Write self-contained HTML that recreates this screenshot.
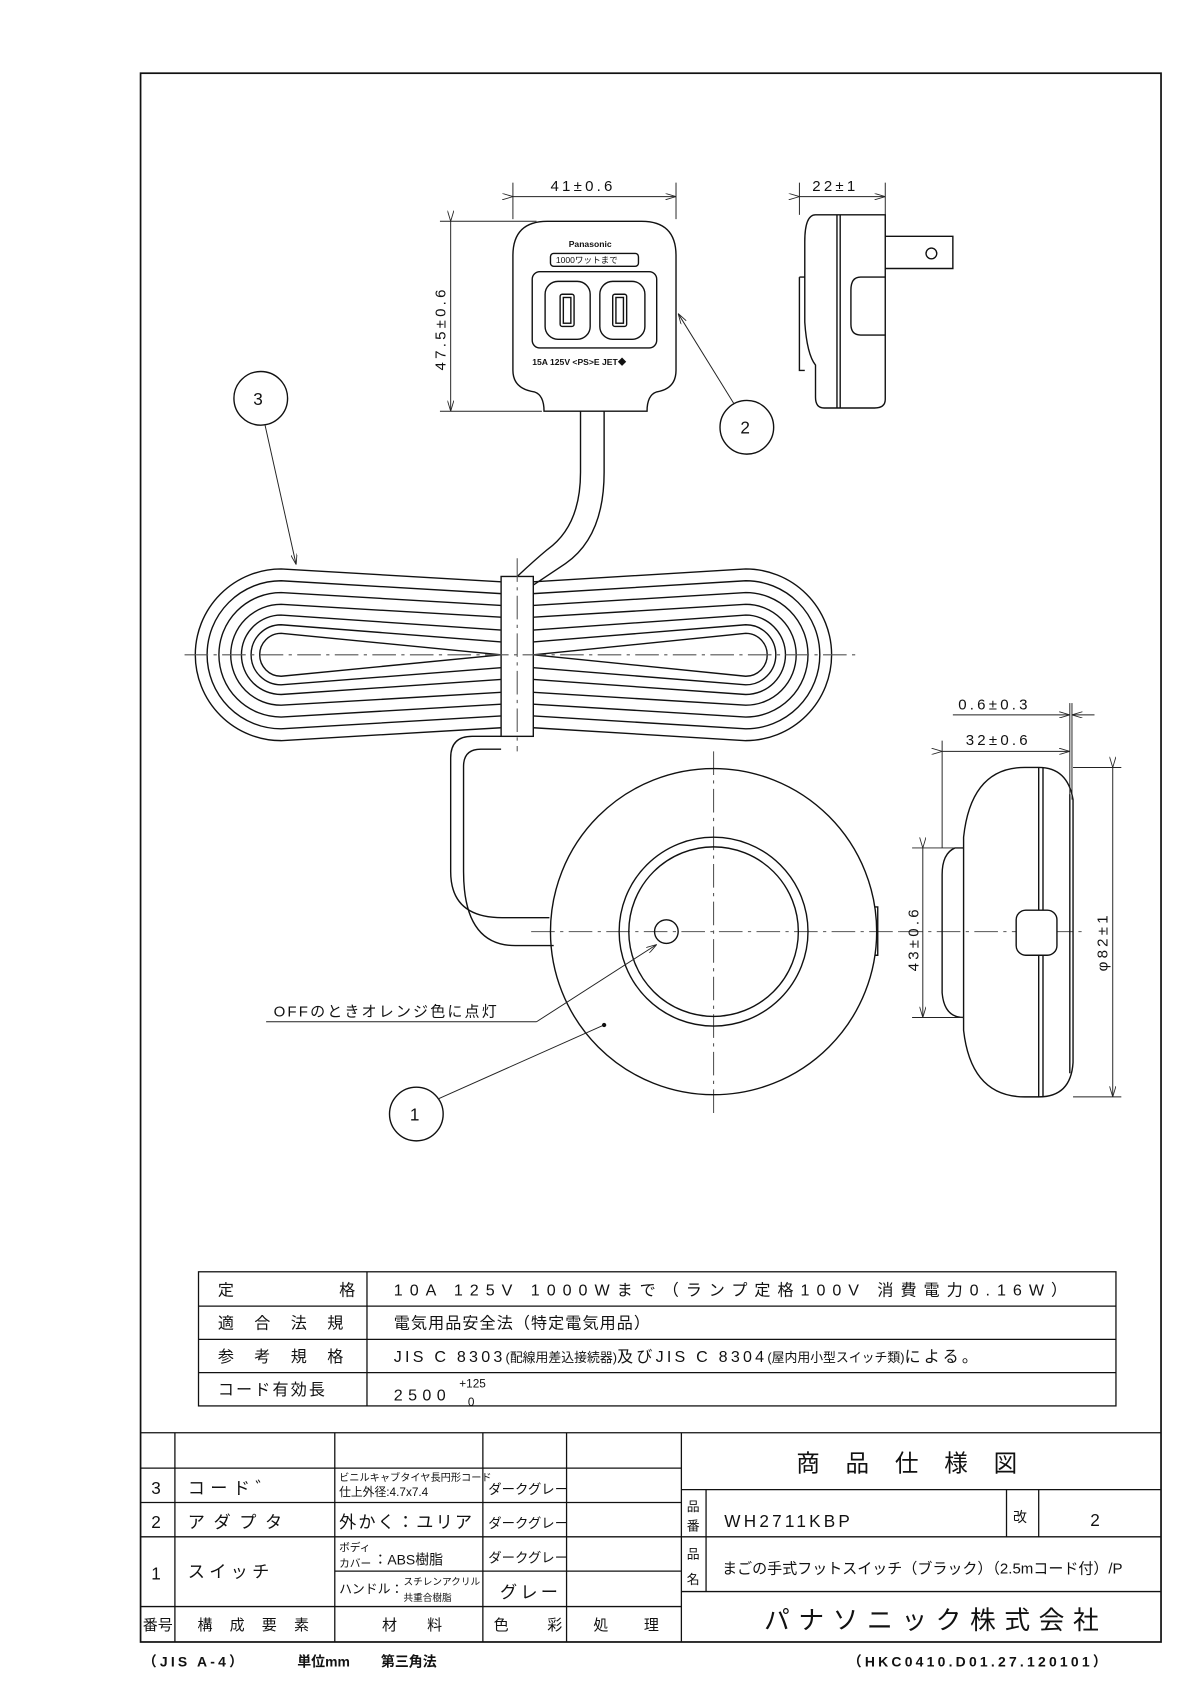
<!DOCTYPE html>
<html><head><meta charset="utf-8"><style>
html,body{margin:0;padding:0;background:#fff;}
svg{display:block;}
text{font-family:"Liberation Sans","Noto Sans CJK JP",sans-serif;fill:#111;}
</style></head><body>
<svg width="1190" height="1683" viewBox="0 0 1109 1568" xmlns="http://www.w3.org/2000/svg">
<defs>
<marker id="a" markerWidth="10" markerHeight="6" refX="10" refY="3" orient="auto" markerUnits="userSpaceOnUse"><path d="M0,0 L10,3 L0,6" fill="none" stroke="#222" stroke-width="0.8"/></marker>
</defs>
<g fill="none" stroke="#111" stroke-width="1.3">
<rect x="131" y="68" width="951" height="1462" stroke-width="1.6"/>

<path d="M478,238 Q478,206 510,206 L598,206 Q630,206 630,238 L630,345 Q630,362 612,365 Q603,368 603,383 L507,383 Q507,368 498,365 Q478,362 478,345 Z"/>
<rect x="496" y="253" width="116" height="71" rx="7"/>
<rect x="508" y="262" width="42" height="54" rx="12"/>
<rect x="559" y="262" width="42" height="54" rx="12"/>
<rect x="522" y="274" width="13" height="30" rx="2"/><rect x="525" y="277" width="7" height="24"/>
<rect x="571" y="274" width="13" height="30" rx="2"/><rect x="574" y="277" width="7" height="24"/>
<rect x="513" y="236" width="82" height="12" rx="3"/>
<path d="M760,200 L825,200 L825,372 Q825,380 815,380 L768,380 Q760,380 760,370 L760,340 Q752,330 750,300 L750,225 Q750,200 760,200 Z"/>
<line x1="780" y1="200" x2="780" y2="380"/><line x1="783" y1="200" x2="783" y2="380"/>
<path d="M745,258 L750,258 M745,258 L745,345 L750,345"/>
<path d="M825,258 L802,258 Q793,258 793,270 L793,302 Q793,312 802,312 L825,312"/>
<path d="M825,220 L888,220 L888,250 L825,250"/>
<circle cx="868" cy="236" r="5"/>

<path d="M541,383 L541,440 Q541,490 510,512 Q498,522 482,537"/>
<path d="M563,383 L563,440 Q563,500 527,525 Q515,533 497,545"/>
<path d="M467,686 L440,686 Q420,686 420,706 L420,812 Q420,855 468,855 L512,855"/>
<path d="M467,698 L448,698 Q432,698 432,714 L432,812 Q432,881 480,881 L516,881"/>
</g>

<g fill="none" stroke="#111" stroke-width="1.3">
<path d="M467,542 L262,530 A80,80 0 0 0 262,690 L467,678"/>
<path d="M467,553 L262,541 A69,69 0 0 0 262,679 L467,667"/>
<path d="M467,564 L262,552 A58,58 0 0 0 262,668 L467,656"/>
<path d="M467,575 L262,563 A47,47 0 0 0 262,657 L467,645"/>
<path d="M467,587 L262,573 A37,37 0 0 0 262,647 L467,633"/>
<path d="M467,598 L262,582 A28,28 0 0 0 262,638 L467,622"/>
<path d="M467,610 L262,590 A20,20 0 0 0 262,630 L467,610"/>
<path d="M497,542 L695,530 A80,80 0 0 1 695,690 L497,678"/>
<path d="M497,553 L695,541 A69,69 0 0 1 695,679 L497,667"/>
<path d="M497,564 L695,552 A58,58 0 0 1 695,668 L497,656"/>
<path d="M497,575 L695,563 A47,47 0 0 1 695,657 L497,645"/>
<path d="M497,587 L695,573 A37,37 0 0 1 695,647 L497,633"/>
<path d="M497,598 L695,582 A28,28 0 0 1 695,638 L497,622"/>
<path d="M497,610 L695,590 A20,20 0 0 1 695,630 L497,610"/>
<rect x="467" y="537" width="30" height="149" fill="#fff"/>
</g>
<g stroke="#555" stroke-width="1" stroke-dasharray="22,5,3,5" fill="none">
<line x1="172" y1="610" x2="800" y2="610"/>
<line x1="482" y1="520" x2="482" y2="700"/>
<line x1="495" y1="868" x2="838" y2="868"/>
<line x1="665" y1="700" x2="665" y2="1040"/>
<line x1="838" y1="868" x2="1010" y2="868"/>
</g>

<g fill="none" stroke="#111" stroke-width="1.3">
<circle cx="665" cy="868" r="152" fill="none"/>
<circle cx="665" cy="868" r="88"/>
<circle cx="665" cy="868" r="79"/>
<circle cx="621" cy="868" r="11"/>
<path d="M815,845 L818,845 L818,890 L815,890"/>
<path d="M1000,745 L1000,990 Q998,1022 968,1022 L955,1022 Q905,1022 898,960 L898,780 Q905,715 955,715 L968,715 Q995,715 1000,745 Z"/>
<line x1="968" y1="715" x2="968" y2="1022"/><line x1="972" y1="715" x2="972" y2="1022"/>
<line x1="997" y1="740" x2="997" y2="1000"/>
<path d="M898,790 L890,790 Q878,795 878,815 L878,925 Q880,948 898,948"/>
<rect x="947" y="848" width="38" height="42" rx="9" fill="#fff"/>
<circle cx="243" cy="371" r="25"/>
<circle cx="696" cy="398" r="25"/>
<circle cx="388" cy="1038" r="25"/>
</g>
<g stroke="#222" stroke-width="0.9" fill="none">
<line x1="247" y1="396" x2="276" y2="526" marker-end="url(#a)"/>
<line x1="684" y1="376" x2="632" y2="292" marker-end="url(#a)"/>
<line x1="408" y1="1024" x2="563" y2="955"/>
<line x1="248" y1="952" x2="500" y2="952"/>
<line x1="500" y1="952" x2="612" y2="880" marker-end="url(#a)"/>
<line x1="478" y1="170" x2="478" y2="204"/><line x1="630" y1="170" x2="630" y2="204"/>
<line x1="478" y1="183" x2="630" y2="183" marker-start="url(#a)" marker-end="url(#a)"/>
<line x1="745" y1="170" x2="745" y2="200"/><line x1="825" y1="170" x2="825" y2="200"/>
<line x1="745" y1="183" x2="825" y2="183" marker-start="url(#a)" marker-end="url(#a)"/>
<line x1="410" y1="206" x2="500" y2="206"/><line x1="410" y1="383" x2="505" y2="383"/>
<line x1="420" y1="206" x2="420" y2="383" marker-start="url(#a)" marker-end="url(#a)"/>
<line x1="878" y1="690" x2="878" y2="790"/><line x1="997" y1="655" x2="997" y2="745"/><line x1="999" y1="655" x2="999" y2="745"/>
<line x1="878" y1="700" x2="997" y2="700" marker-start="url(#a)" marker-end="url(#a)"/>
<line x1="888" y1="666" x2="997" y2="666" marker-end="url(#a)"/>
<line x1="1020" y1="666" x2="999" y2="666" marker-end="url(#a)"/>
<line x1="850" y1="790" x2="898" y2="790"/><line x1="850" y1="948" x2="898" y2="948"/>
<line x1="860" y1="790" x2="860" y2="948" marker-start="url(#a)" marker-end="url(#a)"/>
<line x1="1000" y1="715" x2="1045" y2="715"/><line x1="1000" y1="1022" x2="1045" y2="1022"/>
<line x1="1037" y1="715" x2="1037" y2="1022" marker-start="url(#a)" marker-end="url(#a)"/>
</g>
<circle cx="563" cy="955" r="2" fill="#111"/>
<g font-size="14">
<text x="513" y="178" letter-spacing="3">41±0.6</text>
<text x="757" y="178" letter-spacing="3">22±1</text>
<text x="415" y="345" transform="rotate(-90 415 345)" letter-spacing="3">47.5±0.6</text>
<text x="893" y="661" letter-spacing="3">0.6±0.3</text>
<text x="900" y="694" letter-spacing="3">32±0.6</text>
<text x="856" y="905" transform="rotate(-90 856 905)" letter-spacing="3">43±0.6</text>
<text x="1032" y="905" transform="rotate(-90 1032 905)" letter-spacing="3">φ82±1</text>
<text x="236" y="377" font-size="16">3</text>
<text x="690" y="404" font-size="16">2</text>
<text x="382" y="1044" font-size="16">1</text>
<text x="255" y="947" letter-spacing="2">OFFのときオレンジ色に点灯</text>
<text x="530" y="230" font-size="8" font-weight="bold">Panasonic</text>
<text x="518" y="245" font-size="8">1000ワットまで</text>
<text x="496" y="340" font-size="8" font-weight="bold">15A 125V &lt;PS&gt;E  JET◆</text>
</g>

<g fill="none" stroke="#111" stroke-width="1.2">
<rect x="185" y="1185" width="855" height="125"/>
<line x1="185" y1="1217" x2="1040" y2="1217"/><line x1="185" y1="1248" x2="1040" y2="1248"/><line x1="185" y1="1279" x2="1040" y2="1279"/>
<line x1="342" y1="1185" x2="342" y2="1310"/>
</g>
<g font-size="15">
<text x="203" y="1207">定</text><text x="316" y="1207">格</text>
<text x="203" y="1238" letter-spacing="19">適合法規</text>
<text x="203" y="1269" letter-spacing="19">参考規格</text>
<text x="203" y="1300" letter-spacing="2">コード有効長</text>
<text x="367" y="1207" letter-spacing="6.5">10A 125V 1000Wまで（ランプ定格100V 消費電力0.16W）</text>
<text x="367" y="1238" letter-spacing="1">電気用品安全法（特定電気用品）</text>
<text x="367" y="1269" letter-spacing="3">JIS C 8303<tspan font-size="12" letter-spacing="0">(配線用差込接続器)</tspan>及びJIS C 8304<tspan font-size="12" letter-spacing="0">(屋内用小型スイッチ類)</tspan>による。</text>
<text x="367" y="1305" letter-spacing="5">2500</text>
<text x="428" y="1293" font-size="11">+125</text>
<text x="436" y="1310" font-size="11">0</text>
</g>

<g fill="none" stroke="#111" stroke-width="1.2">
<line x1="131" y1="1335" x2="1082" y2="1335"/>
<line x1="131" y1="1368" x2="635" y2="1368"/>
<line x1="131" y1="1400" x2="635" y2="1400"/>
<line x1="131" y1="1432" x2="635" y2="1432"/>
<line x1="312" y1="1464" x2="635" y2="1464"/>
<line x1="131" y1="1497" x2="635" y2="1497"/>
<line x1="163" y1="1335" x2="163" y2="1530"/>
<line x1="312" y1="1335" x2="312" y2="1530"/>
<line x1="450" y1="1335" x2="450" y2="1530"/>
<line x1="528" y1="1335" x2="528" y2="1530"/>
<line x1="635" y1="1335" x2="635" y2="1530"/>
<line x1="635" y1="1388" x2="1082" y2="1388"/>
<line x1="635" y1="1432" x2="1082" y2="1432"/>
<line x1="635" y1="1483" x2="1082" y2="1483"/>
<line x1="658" y1="1388" x2="658" y2="1483"/>
<line x1="938" y1="1388" x2="938" y2="1432"/>
<line x1="968" y1="1388" x2="968" y2="1432"/>
</g>
<g font-size="16">
<text x="141" y="1392">3</text><text x="175" y="1392" letter-spacing="5">コード゛</text>
<text x="141" y="1424">2</text><text x="175" y="1424" letter-spacing="8">アダプタ</text>
<text x="141" y="1472">1</text><text x="175" y="1470" letter-spacing="4">スイッチ</text>
<text x="316" y="1380" font-size="9.5">ビニルキャブタイヤ長円形コード</text>
<text x="316" y="1394" font-size="11">仕上外径:4.7x7.4</text>
<text x="316" y="1424" letter-spacing="2">外かく：ユリア</text>
<text x="316" y="1445" font-size="10">ボディ</text><text x="316" y="1460" font-size="10">カバー</text>
<text x="348" y="1458" font-size="13">：ABS樹脂</text>
<text x="316" y="1485" font-size="12">ハンドル：</text>
<text x="376" y="1477" font-size="9">スチレンアクリル</text>
<text x="376" y="1492" font-size="9">共重合樹脂</text>
<text x="455" y="1392" font-size="12.5">ダークグレー</text>
<text x="455" y="1424" font-size="12.5">ダークグレー</text>
<text x="455" y="1456" font-size="12.5">ダークグレー</text>
<text x="466" y="1489" letter-spacing="3">グレー</text>
<text x="133" y="1519" font-size="14">番号</text>
<text x="184" y="1519" font-size="14" letter-spacing="16">構成要素</text>
<text x="356" y="1519" font-size="14">材</text><text x="398" y="1519" font-size="14">料</text>
<text x="460" y="1519" font-size="14">色</text><text x="510" y="1519" font-size="14">彩</text>
<text x="553" y="1519" font-size="14">処</text><text x="600" y="1519" font-size="14">理</text>
<text x="742" y="1371" font-size="22" letter-spacing="24">商品仕様図</text>
<text x="640" y="1408" font-size="12">品</text><text x="640" y="1426" font-size="12">番</text>
<text x="675" y="1423" letter-spacing="3">WH2711KBP</text>
<text x="944" y="1418" font-size="13">改</text>
<text x="1016" y="1422">2</text>
<text x="640" y="1452" font-size="12">品</text><text x="640" y="1476" font-size="12">名</text>
<text x="673" y="1466" font-size="14">まごの手式フットスイッチ（ブラック）（2.5mコード付）/P</text>
<text x="712" y="1518" font-size="24" letter-spacing="8">パナソニック株式会社</text>
<text x="133" y="1553" font-size="13" font-weight="bold" letter-spacing="3">（JIS A-4）</text>
<text x="277" y="1553" font-size="13" font-weight="bold">単位mm</text>
<text x="355" y="1553" font-size="13" font-weight="bold">第三角法</text>
<text x="790" y="1553" font-size="13" font-weight="bold" letter-spacing="3">（HKC0410.D01.27.120101）</text>
</g>
</svg>
</body></html>
